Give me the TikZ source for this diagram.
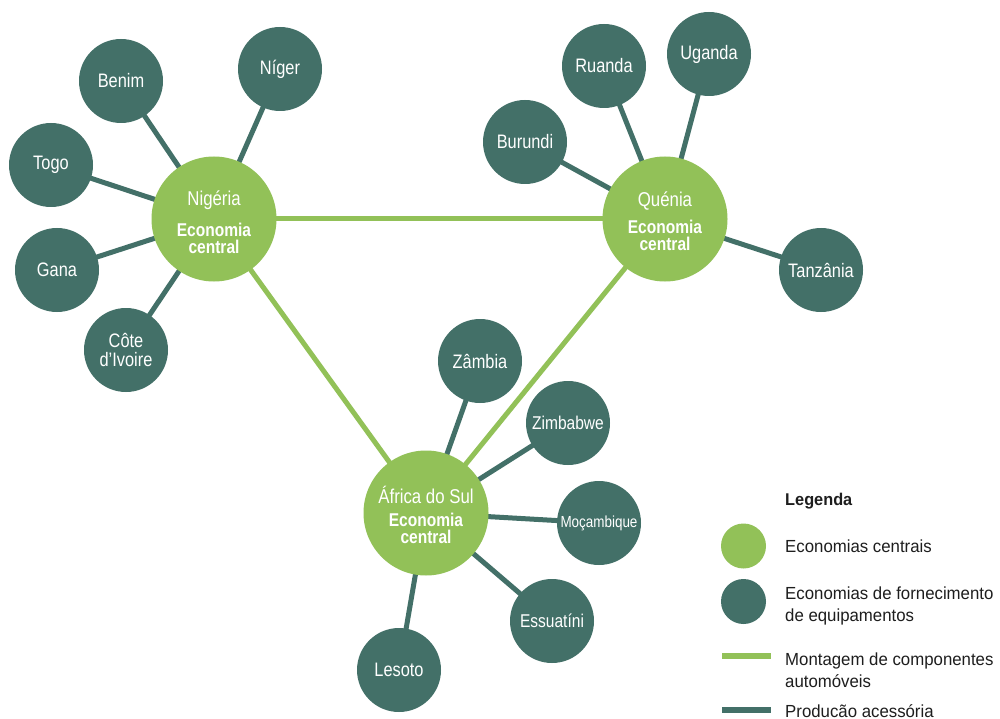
\documentclass[tikz,border=0pt]{standalone}
\usepackage{fontspec}
\setmainfont{Liberation Sans}
\newfontfamily\condfont[FakeStretch=0.84]{Liberation Sans}
\newfontfamily\legfont[FakeStretch=0.96]{Liberation Sans}
\usetikzlibrary{backgrounds}
\definecolor{cgreen}{RGB}{146,193,88}
\definecolor{cteal}{RGB}{67,112,104}
\definecolor{ctext}{RGB}{30,30,30}
\tikzset{
  core/.style={circle,fill=cgreen,draw=none,minimum size=125pt,inner sep=0pt},
  coretext/.style={inner sep=0pt,text=white,align=center,font=\condfont\fontsize{18.5}{17}\selectfont},
  sat/.style={circle,fill=cteal,draw=none,minimum size=84pt,inner sep=0pt,text=white,align=center,font=\condfont\fontsize{19.5}{19}\selectfont},
  mainlink/.style={draw=cgreen,line width=5pt},
  sublink/.style={draw=cteal,line width=5pt},
  legtext/.style={anchor=west,inner sep=0pt,text=ctext,align=left,font=\legfont\fontsize{17.5}{22}\selectfont},
}
\begin{document}
\begin{tikzpicture}[x=1pt,y=-1pt]
\useasboundingbox (0,0) rectangle (1000,719);
% core economies
\node[core] (ng) at (214,219) {};
\node[core] (ke) at (665,219) {};
\node[core] (za) at (426,513) {};
\node[coretext] (ngt) at ([yshift=-3pt]ng.center) {{\fontsize{20}{16}\selectfont Nigéria}\\[12pt]\textbf{Economia}\\\textbf{central}};
\node[coretext] (ket) at ([yshift=-2pt]ke.center) {{\fontsize{20}{16}\selectfont Quénia}\\[9pt]\textbf{Economia}\\\textbf{central}};
\node[coretext] (zat) at ([yshift=-2pt]za.center) {{\fontsize{20}{16}\selectfont África do Sul}\\[6pt]\textbf{Economia}\\\textbf{central}};
% satellites Nigeria
\node[sat] (bj) at (121,81) {Benim};
\node[sat] (ne) at (280,69) {Níger};
\node[sat] (tg) at (51,165) {Togo};
\node[sat] (gh) at (57,270) {Gana};
\node[sat] (ci) at (126,350) {Côte\\d’Ivoire};
% satellites Kenya
\node[sat] (rw) at (604,66) {Ruanda};
\node[sat] (ug) at (709,54) {Uganda};
\node[sat] (bi) at (525,142) {Burundi};
\node[sat] (tz) at (821,270) {Tanzânia};
% satellites South Africa
\node[sat] (zm) at (480,361) {Zâmbia};
\node[sat,font=\condfont\fontsize{18.5}{19}\selectfont] (zw) at (568,423) {Zimbabwe};
\node[sat,font=\condfont\fontsize{16}{19}\selectfont] (mz) at (599,523) {Moçambique};
\node[sat,font=\condfont\fontsize{18.5}{19}\selectfont] (sz) at (552,621) {Essuatíni};
\node[sat] (ls) at (399,670) {Lesoto};
% connectors
\begin{scope}[on background layer]
\fill[white] (0,0) rectangle (1000,719);
\draw[mainlink] (ng.center) -- (ke.center);
\draw[mainlink] (ng.center) -- (za.center);
\draw[mainlink] (ke.center) -- (za.center);
\foreach \s in {bj,ne,tg,gh,ci} \draw[sublink] (ng.center) -- (\s.center);
\foreach \s in {rw,ug,bi,tz} \draw[sublink] (ke.center) -- (\s.center);
\foreach \s in {zm,zw,mz,sz,ls} \draw[sublink] (za.center) -- (\s.center);
\end{scope}
% legend
\node[legtext,font=\legfont\bfseries\fontsize{17}{20}\selectfont] (lt) at (785,501) {Legenda};
\node[circle,fill=cgreen,minimum size=45pt,inner sep=0pt] (lc1) at (743.5,546) {};
\node[legtext] (l1) at (785,546) {Economias centrais};
\node[circle,fill=cteal,minimum size=45pt,inner sep=0pt] (lc2) at (743.5,601.5) {};
\node[legtext] (l2) at (785,606) {Economias de fornecimento\\de equipamentos};
\coordinate (g1) at (722,656);
\coordinate (g2) at (771,656);
\draw[draw=cgreen,line width=6pt] (g1) -- (g2);
\node[legtext] (l3) at (785,670) {Montagem de componentes\\automóveis};
\coordinate (t1) at (722,710);
\coordinate (t2) at (771,710);
\draw[draw=cteal,line width=6pt] (t1) -- (t2);
\node[legtext] (l4) at (785,711) {Producão acessória};
\end{tikzpicture}
\end{document}
